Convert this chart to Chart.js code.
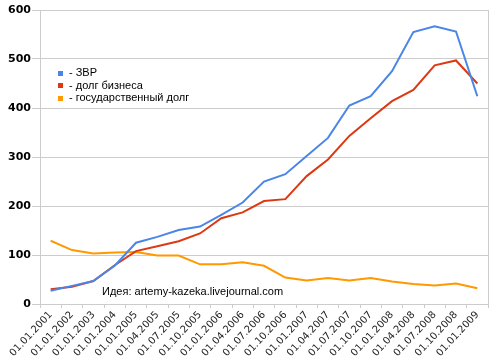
<!DOCTYPE html>
<html><head><meta charset="utf-8">
<script src="https://cdn.jsdelivr.net/npm/chart.js@4.4.0/dist/chart.umd.min.js"></script>
<style>html,body{margin:0;padding:0;background:#fff}#wrap{width:499px;height:360px}</style>
</head><body><div id="wrap"><canvas id="c" width="499" height="360"></canvas></div>
<script>
const categories = ["01.01.2001","01.01.2002","01.01.2003","01.01.2004","01.01.2005","01.04.2005","01.07.2005","01.10.2005","01.01.2006","01.04.2006","01.07.2006","01.10.2006","01.01.2007","01.04.2007","01.07.2007","01.10.2007","01.01.2008","01.04.2008","01.07.2008","01.10.2008","01.01.2009"];
const reserves = [27,37,47,78,125,137,151,158,182,207,250,265,302,339,405,424,475,555,567,556,424];
const businessDebt = [30,35,47,79,108,118,128,144,175,187,210,214,261,295,343,379,414,437,487,497,450];
const stateDebt = [129,110,103,105,106,99,99,81,81,85,78,54,48,53,48,53,46,41,38,42,32];
const yTicks = [0,100,200,300,400,500,600];
const seriesNames = ["- ЗВР","- долг бизнеса","- государственный долг"];
const seriesColors = ["#4a86e8","#dc3912","#ff9900"];
const watermark = "Идея: artemy-kazeka.livejournal.com";

const overlay = {
  id:'overlay',
  afterDraw(chart){
    const ctx = chart.ctx, a = chart.chartArea;
    ctx.save();
    ctx.strokeStyle = '#cccccc'; ctx.lineWidth = 1;
    ctx.beginPath(); ctx.moveTo(a.right+0.5, a.top); ctx.lineTo(a.right+0.5, a.bottom); ctx.stroke();
    ctx.font = '11px "Liberation Sans", Arial, sans-serif';
    ctx.textBaseline = 'middle';
    seriesNames.forEach((n,i)=>{
      const y = 73 + i*12.5;
      ctx.fillStyle = seriesColors[i];
      ctx.fillRect(58, Math.round(y-2.5), 5, 5);
      ctx.fillStyle = '#000';
      ctx.fillText(n, 69, y);
    });
    ctx.fillText(watermark, 102, 292);
    ctx.restore();
  }
};

new Chart(document.getElementById('c'), {
  type:'line',
  data:{
    labels: categories,
    datasets:[
      {label:seriesNames[0], data:reserves, borderColor:seriesColors[0], backgroundColor:seriesColors[0], borderWidth:2, pointRadius:0, tension:0},
      {label:seriesNames[1], data:businessDebt, borderColor:seriesColors[1], backgroundColor:seriesColors[1], borderWidth:2, pointRadius:0, tension:0},
      {label:seriesNames[2], data:stateDebt, borderColor:seriesColors[2], backgroundColor:seriesColors[2], borderWidth:2, pointRadius:0, tension:0}
    ]
  },
  options:{
    responsive:false, animation:false,
    layout:{padding:{top:10,right:11,left:0,bottom:0}},
    plugins:{legend:{display:false}, tooltip:{enabled:false}},
    scales:{
      x:{
        offset:true,
        grid:{display:true, offset:true, drawOnChartArea:false, drawTicks:true, tickLength:4, color:'#cccccc'},
        border:{color:'#cccccc'},
        ticks:{autoSkip:false, maxRotation:47, minRotation:47, color:'#222', font:{family:'"DejaVu Sans", Verdana, sans-serif', size:10}, padding:1},
        afterFit(s){ s.height = 56; }
      },
      y:{
        min:0, max:600,
        afterBuildTicks(s){ s.ticks = yTicks.map(v=>({value:v})); },
        grid:{color:'#cccccc', drawTicks:true, tickLength:8},
        border:{color:'#cccccc'},
        ticks:{color:'#000', font:{family:'"DejaVu Sans", Verdana, sans-serif', size:11, weight:'bold'}, padding:1},
        afterFit(s){ s.width = 40; }
      }
    }
  },
  plugins:[overlay]
});
</script></body></html>
